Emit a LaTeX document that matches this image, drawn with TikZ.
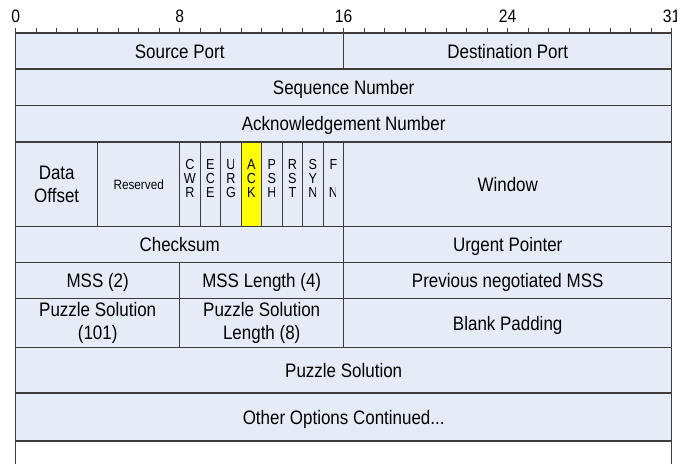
\documentclass[tikz,border=0pt]{standalone}
\usepackage{fontspec}
\setmainfont[FakeStretch=0.87]{Liberation Sans}
\definecolor{cellfill}{RGB}{230,236,247}
\definecolor{linecol}{RGB}{60,60,60}
\definecolor{ackfill}{RGB}{255,255,0}
\tikzset{
  cell/.style={draw=linecol, line width=1.1pt, fill=cellfill},
  edgeline/.style={draw=linecol, line width=1.1pt},
  lab/.style={font=\fontsize{19.5}{23}\selectfont, inner sep=0pt, text height=14pt, text depth=0pt},
  labtwo/.style={font=\fontsize{19.5}{23}\selectfont, inner sep=0pt, align=center},
  flagl/.style={font=\fontsize{14.5}{15}\selectfont, inner sep=0pt, text height=10.3pt, text depth=0pt},
  smalll/.style={font=\fontsize{13.5}{15}\selectfont, inner sep=0pt, text height=9.7pt, text depth=0pt},
  rulerl/.style={font=\fontsize{18}{20}\selectfont, inner sep=0pt, text height=12.9pt, text depth=0pt},
  tickline/.style={draw=linecol, line width=1pt},
}
\newcommand\fld[7][lab]{%
  \draw[cell] (#2,#3) rectangle (#4,#5);
  \node[#1] (#6) at ({(#2+#4)/2},{(#3+#5)/2}) {#7};}
\newcommand\flg[4]{% column, y, name, letter
  \node[flagl] (#3) at (#1+0.5,#2) {#4};}
\newcommand\flgclip[4]{%
  \begin{scope}
    \clip (#1,#2-8) rectangle (#1+0.61,#2+8);
    \node[flagl] (#3) at (#1+0.5,#2) {#4};
  \end{scope}}
\begin{document}
\begin{tikzpicture}[x=20.5pt, y=-1pt]
\useasboundingbox (-0.76585,0) rectangle (32.2585,464);
\fill[white] (-0.76585,0) rectangle (32.2585,464);

% ruler
\foreach \i in {0,...,32} \draw[tickline] (\i,28) -- (\i,33);
\node[rulerl] (r0) at (0,16.5) {0};
\node[rulerl] (r8) at (8,16.5) {8};
\node[rulerl] (r16) at (16,16.5) {16};
\node[rulerl] (r24) at (24,16.5) {24};
\node[rulerl] (r31) at (32,16.5) {31};

% rows
\fld{0}{33}{16}{69}{src}{Source Port}
\fld{16}{33}{32}{69}{dst}{Destination Port}
\fld{0}{69}{32}{105.7}{seq}{Sequence Number}
\fld{0}{105.7}{32}{142}{ackn}{Acknowledgement Number}
\fld[labtwo]{0}{142}{4}{226.7}{doff}{Data\\Offset}
\draw[cell] (4,142) rectangle (8,226.7);
\path (6,184.35) node[smalll] (resph) {\phantom{Reserved}};
\coordinate (rescut) at ([xshift=-1.4pt]resph.east);
\begin{scope}
  \clip (4,160) rectangle (rescut |- 0,210);
  \node[smalll] (res) at (6,184.35) {Reserved};
\end{scope}
\foreach \i in {0,...,7} \draw[cell] (8+\i,142) rectangle (9+\i,226.7);
\draw[cell, fill=ackfill] (11,142) rectangle (12,226.7);
\fld{16}{142}{32}{226.7}{win}{Window}

% flag letters
\flg{8}{164.8}{cwr1}{C}\flg{8}{178.5}{cwr2}{W}\flg{8}{192.8}{cwr3}{R}
\flg{9}{164.8}{ece1}{E}\flg{9}{178.5}{ece2}{C}\flg{9}{192.8}{ece3}{E}
\flgclip{10}{164.8}{urg1}{U}\flg{10}{178.5}{urg2}{R}\flg{10}{192.8}{urg3}{G}
\flg{11}{164.8}{ack1}{A}\flg{11}{178.5}{ack2}{C}\flg{11}{192.8}{ack3}{K}
\flgclip{12}{164.8}{psh1}{P}\flg{12}{178.5}{psh2}{S}\flgclip{12}{192.8}{psh3}{H}
\flg{13}{164.8}{rst1}{R}\flg{13}{178.5}{rst2}{S}\flg{13}{192.8}{rst3}{T}
\flg{14}{164.8}{syn1}{S}\flg{14}{178.5}{syn2}{Y}\flgclip{14}{192.8}{syn3}{N}
\flg{15}{164.8}{fin1}{F}\flgclip{15}{192.8}{fin3}{N}

\fld{0}{226.7}{16}{262.3}{csum}{Checksum}
\fld{16}{226.7}{32}{262.3}{urgp}{Urgent Pointer}
\fld{0}{262.3}{8}{298.7}{mss}{MSS (2)}
\fld{8}{262.3}{16}{298.7}{mssl}{MSS Length (4)}
\fld{16}{262.3}{32}{298.7}{prev}{Previous negotiated MSS}
\fld[labtwo]{0}{298.7}{8}{347.3}{ps}{Puzzle Solution\\(101)}
\fld[labtwo]{8}{298.7}{16}{347.3}{psl}{Puzzle Solution\\Length (8)}
\fld{16}{298.7}{32}{347.3}{pad}{Blank Padding}
\fld{0}{347.3}{32}{393}{psol}{Puzzle Solution}
\fld{0}{393}{32}{441}{oth}{Other Options Continued...}

% open bottom
\draw[edgeline] (0,441) -- (0,464);
\draw[edgeline] (32,441) -- (32,464);
\end{tikzpicture}
\end{document}
